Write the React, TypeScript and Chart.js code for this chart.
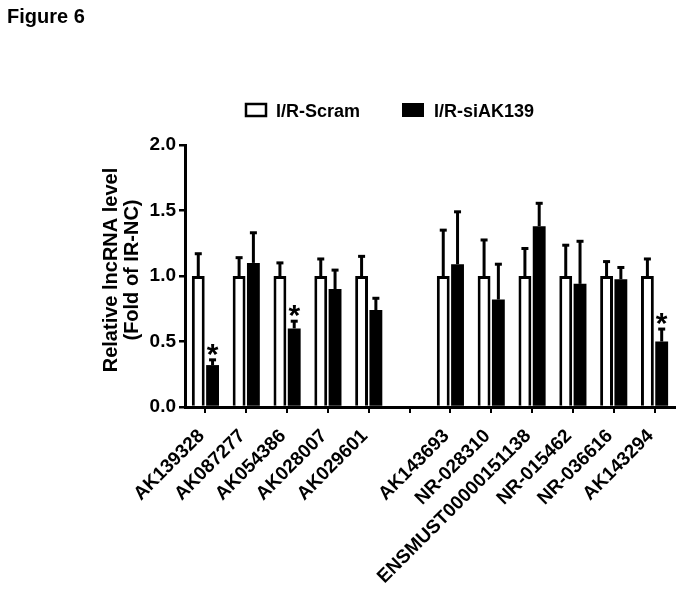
import React, { useEffect, useRef } from 'react';
import { Chart, registerables } from 'chart.js';

Chart.register(...registerables);

const categories = [
  'AK139328', 'AK087277', 'AK054386', 'AK028007', 'AK029601', '',
  'AK143693', 'NR-028310', 'ENSMUST00000151138', 'NR-015462', 'NR-036616', 'AK143294',
];
const scramValues = [1, 1, 1, 1, 1, null, 1, 1, 1, 1, 1, 1];
const scramErrors = [0.17, 0.14, 0.1, 0.13, 0.15, null, 0.35, 0.275, 0.21, 0.235, 0.11, 0.13];
const siValues = [0.32, 1.1, 0.6, 0.9, 0.74, null, 1.09, 0.82, 1.38, 0.94, 0.975, 0.5];
const siErrors = [0.04, 0.23, 0.055, 0.145, 0.09, null, 0.4, 0.27, 0.175, 0.325, 0.09, 0.095];
const significant = [true, false, true, false, false, false, false, false, false, false, false, true];
const seriesNames = ['I/R-Scram', 'I/R-siAK139'];
const yLabelLines = ['Relative lncRNA level', '(Fold of IR-NC)'];
const figureTitle = 'Figure 6';

const FONT = '"Liberation Sans", Arial, Helvetica, sans-serif';

const overlayPlugin = {
  id: 'overlay',
  afterDatasetsDraw(chart: any) {
    const ctx = chart.ctx;
    const y = chart.scales.y;
    const errs = [scramErrors, siErrors];
    const vals = [scramValues, siValues];
    ctx.save();
    ctx.strokeStyle = '#000';
    ctx.fillStyle = '#000';
    for (let d = 0; d < 2; d++) {
      const meta = chart.getDatasetMeta(d);
      meta.data.forEach((bar: any, i: number) => {
        const v = vals[d][i];
        const e = errs[d][i];
        if (v == null || e == null) return;
        const top = y.getPixelForValue(v + e);
        ctx.lineWidth = 3;
        ctx.beginPath();
        ctx.moveTo(bar.x, bar.y);
        ctx.lineTo(bar.x, top);
        ctx.stroke();
        ctx.fillRect(bar.x - 3.5, top - 1.5, 7, 3);
        if (d === 1 && significant[i]) {
          ctx.font = `bold 30px ${FONT}`;
          ctx.textAlign = 'center';
          ctx.textBaseline = 'alphabetic';
          const m = ctx.measureText('*');
          ctx.fillText('*', bar.x, top - 4 - m.actualBoundingBoxDescent);
        }
      });
    }
    ctx.restore();
  },
  afterDraw(chart: any) {
    const ctx = chart.ctx;
    ctx.save();
    ctx.fillStyle = '#000';
    // title
    ctx.font = `bold 20px ${FONT}`;
    ctx.textAlign = 'left';
    ctx.textBaseline = 'alphabetic';
    ctx.fillText(figureTitle, 7, 23);
    // legend
    ctx.lineWidth = 2.5;
    ctx.strokeStyle = '#000';
    ctx.fillStyle = '#fff';
    ctx.fillRect(246, 104, 20, 12);
    ctx.strokeRect(246, 104, 20, 12);
    ctx.fillStyle = '#000';
    ctx.fillRect(402, 103, 22, 14);
    ctx.font = `bold 18px ${FONT}`;
    ctx.fillText(seriesNames[0], 276, 117);
    ctx.fillText(seriesNames[1], 434, 117);
    // y label
    ctx.font = `bold 20px ${FONT}`;
    ctx.textAlign = 'center';
    ctx.textBaseline = 'middle';
    ctx.translate(0, 270);
    ctx.rotate(-Math.PI / 2);
    ctx.fillText(yLabelLines[0], 0, 111);
    ctx.fillText(yLabelLines[1], 0, 132);
    ctx.restore();
  },
};

export default function App() {
  const ref = useRef<HTMLCanvasElement>(null);
  useEffect(() => {
    document.body.style.margin = '0';
    const chart = new Chart(ref.current as HTMLCanvasElement, {
      type: 'bar',
      data: {
        labels: categories,
        datasets: [
          {
            label: seriesNames[0],
            data: scramValues as any,
            backgroundColor: '#fff',
            borderColor: '#000',
            borderWidth: 3,
            borderSkipped: 'bottom',
          },
          {
            label: seriesNames[1],
            data: siValues as any,
            backgroundColor: '#000',
            borderColor: '#000',
            borderWidth: 0,
          },
        ],
      },
      options: {
        responsive: false,
        animation: false,
        devicePixelRatio: 1,
        categoryPercentage: 0.7,
        barPercentage: 0.9,
        layout: { padding: { left: 0, top: 145, right: 8, bottom: 0 } },
        plugins: { legend: { display: false }, tooltip: { enabled: false }, title: { display: false } },
        scales: {
          x: {
            offset: true,
            grid: { offset: false, drawOnChartArea: false, drawTicks: true, tickLength: 6, color: '#000', lineWidth: 2 },
            border: { color: '#000', width: 3 },
            ticks: {
              autoSkip: false,
              minRotation: 45,
              maxRotation: 45,
              padding: 12,
              labelOffset: -4,
              color: '#000',
              font: { family: FONT, size: 19, weight: 'bold' },
            },
            afterFit(scale: any) { scale.height = 187; },
          },
          y: {
            min: 0,
            max: 2,
            grid: { drawOnChartArea: false, drawTicks: true, tickLength: 6, color: '#000', lineWidth: 2.5 },
            border: { color: '#000', width: 3 },
            ticks: {
              stepSize: 0.5,
              padding: 3,
              color: '#000',
              font: { family: FONT, size: 19, weight: 'bold' },
              callback: (v: any) => Number(v).toFixed(1),
            },
            afterFit(scale: any) { scale.width = 185; },
          },
        },
      },
      plugins: [overlayPlugin],
    });
    return () => chart.destroy();
  }, []);
  return (
    <div style={{ width: 683, height: 594, background: '#fff' }}>
      <canvas ref={ref} width={683} height={594} />
    </div>
  );
}
